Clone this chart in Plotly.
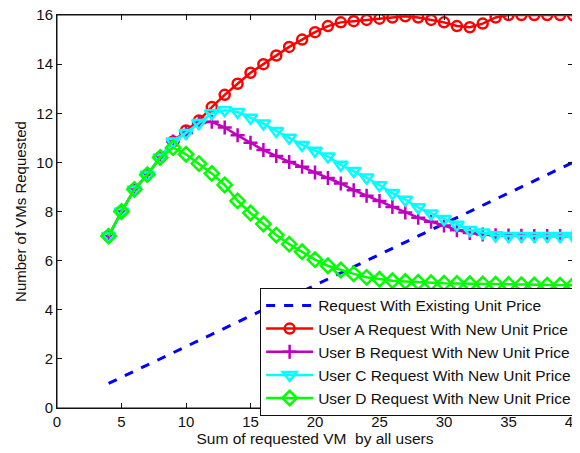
import plotly.graph_objects as go

x_users = list(range(4, 41))
user_a = [7.0, 8.0, 8.9, 9.5, 10.2, 10.85, 11.3, 11.7, 12.25, 12.75, 13.2, 13.65, 14.0, 14.35,
          14.7, 15.0, 15.3, 15.55, 15.7, 15.75, 15.8, 15.85, 15.9, 15.95, 15.9, 15.8, 15.7,
          15.55, 15.5, 15.65, 15.9, 16.0, 16.0, 16.0, 16.0, 16.0, 16.0]
user_b = [7.0, 8.0, 8.9, 9.5, 10.2, 10.85, 11.2, 11.6, 11.65, 11.42, 11.1, 10.8, 10.5, 10.26,
          10.02, 9.82, 9.59, 9.36, 9.14, 8.87, 8.64, 8.43, 8.18, 7.96, 7.75, 7.58, 7.43,
          7.24, 7.12, 7.06, 7.03, 7.02, 7.01, 7.0, 7.0, 7.0, 7.0]
user_c = [7.0, 8.0, 8.9, 9.5, 10.2, 10.85, 11.2, 11.6, 12.0, 12.12, 12.05, 11.82, 11.58, 11.28,
          11.0, 10.71, 10.47, 10.24, 9.9, 9.65, 9.38, 9.07, 8.75, 8.48, 8.17, 7.92, 7.69,
          7.46, 7.25, 7.14, 7.03, 7.0, 7.0, 7.0, 7.0, 7.0, 7.0]
user_d = [7.0, 8.0, 8.9, 9.5, 10.2, 10.6, 10.33, 9.95, 9.55, 9.08, 8.43, 7.94, 7.49, 7.04,
          6.67, 6.36, 6.04, 5.79, 5.62, 5.46, 5.32, 5.24, 5.18, 5.15, 5.12, 5.1, 5.08,
          5.07, 5.06, 5.05, 5.04, 5.03, 5.02, 5.01, 5.0, 5.0, 5.0]
x_existing = [4, 40]
existing = [1.0, 10.0]

x_ticks = [0, 5, 10, 15, 20, 25, 30, 35, 40]
y_ticks = [0, 2, 4, 6, 8, 10, 12, 14, 16]

FONT = "Liberation Sans, Arial, Helvetica, sans-serif"

fig = go.Figure()
fig.add_trace(go.Scatter(x=x_existing, y=existing, mode="lines",
                         name="Request With Existing Unit Price",
                         line=dict(color="#0000FF", width=3, dash="dash")))
fig.add_trace(go.Scatter(x=x_users, y=user_a, mode="lines+markers",
                         name="User A Request With New Unit Price",
                         line=dict(color="#FF0000", width=2.5),
                         marker=dict(symbol="circle-open", size=10, color="#FF0000",
                                     line=dict(width=2.5, color="#FF0000"))))
fig.add_trace(go.Scatter(x=x_users, y=user_b, mode="lines+markers",
                         name="User B Request With New Unit Price",
                         line=dict(color="#BF00BF", width=2.5),
                         marker=dict(symbol="cross-thin", size=10, color="#BF00BF",
                                     line=dict(width=2.5, color="#BF00BF"))))
fig.add_trace(go.Scatter(x=x_users, y=user_c, mode="lines+markers",
                         name="User C Request With New Unit Price",
                         line=dict(color="#00FFFF", width=2.5),
                         marker=dict(symbol="triangle-down-open", size=12, color="#00FFFF",
                                     line=dict(width=2.5, color="#00FFFF"))))
fig.add_trace(go.Scatter(x=x_users, y=user_d, mode="lines+markers",
                         name="User D Request With New Unit Price",
                         line=dict(color="#00FF00", width=2.5),
                         marker=dict(symbol="diamond-open", size=11, color="#00FF00",
                                     line=dict(width=2.5, color="#00FF00"))))

axis_common = dict(showgrid=False, zeroline=False, showline=True, linecolor="#111111",
                   linewidth=1, mirror="ticks", ticks="inside", ticklen=5,
                   tickcolor="#111111", automargin=False, ticklabeloverflow="allow",
                   tickfont=dict(family=FONT, size=15, color="#111111"))

# The page body adds an 8px offset, so the figure is sized for the remaining area.
fig.update_layout(
    width=572, height=445,
    margin=dict(l=49, r=3, t=7, b=45),
    paper_bgcolor="white", plot_bgcolor="white",
    font=dict(family=FONT, color="#111111"),
    xaxis=dict(range=[0, 40], tickvals=x_ticks, ticktext=[str(v) for v in x_ticks],
               title=dict(text="Sum of requested VM  by all users", font=dict(size=15.5), standoff=2),
               **axis_common),
    yaxis=dict(range=[0, 16], tickvals=y_ticks, ticktext=[str(v) for v in y_ticks],
               title=dict(text="Number of VMs Requested", font=dict(size=15), standoff=6),
               **axis_common),
    legend=dict(x=1.008, y=-0.02, xanchor="right", yanchor="bottom",
                bgcolor="white", bordercolor="#111111", borderwidth=1,
                font=dict(family=FONT, size=15.5, color="#111111"),
                itemwidth=47, tracegroupgap=0),
    shapes=[dict(type="rect", xref="paper", yref="paper", x0=0, x1=1, y0=0, y1=1,
                 line=dict(color="#111111", width=1), layer="below")],
    showlegend=True,
)

fig.write_html("out.html")
